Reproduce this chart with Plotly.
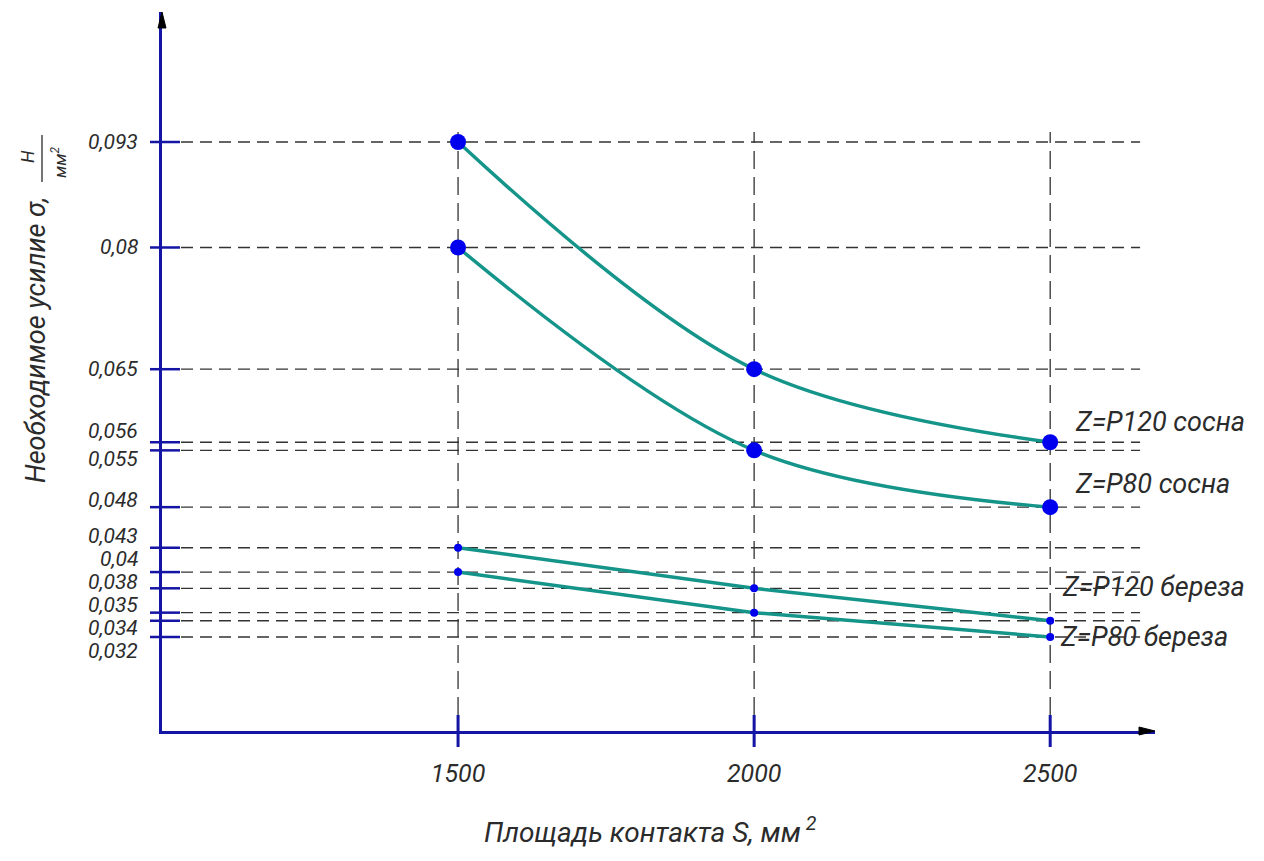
import plotly.graph_objects as go

# ---------------- data ----------------
S = [1500, 2000, 2500]
x_tick_labels = ["1500", "2000", "2500"]
series_names = ["Z=P120 сосна", "Z=P80 сосна", "Z=P120 береза", "Z=P80 береза"]
p120_pine = [0.093, 0.065, 0.056]
p80_pine = [0.080, 0.055, 0.048]
p120_birch = [0.043, 0.038, 0.034]
p80_birch = [0.040, 0.035, 0.032]
y_tick_vals = [0.093, 0.080, 0.065, 0.056, 0.055, 0.048,
               0.043, 0.040, 0.038, 0.035, 0.034, 0.032]
y_tick_labels = ["0,093", "0,08", "0,065", "0,056", "0,055", "0,048",
                 "0,043", "0,04", "0,038", "0,035", "0,034", "0,032"]

# ---------------- style ----------------
FONT = "Roboto, Liberation Sans, sans-serif"
TXT = "#2b2b2b"
AXIS = "#1414a5"
TEAL = "#15958a"
BLUE = "#0000ee"
OFF = 8                      # default page body margin
W, H = 1264 - OFF, 861 - OFF
ML, MR, MT, MB = 162 - OFF, 109, 12 - OFF, 130
PW, PH = W - ML - MR, H - MT - MB
X_RANGE = [1000, 2677]
Y_RANGE = [0.020416, 0.10902]
label_yshift = [0, 0, 0, 11, -9, 7, 12, 13, 6, 8, -7, -14]
series_style = [
    dict(y=p120_pine, shape="spline", msize=16),
    dict(y=p80_pine, shape="spline", msize=16),
    dict(y=p120_birch, shape="linear", msize=8),
    dict(y=p80_birch, shape="linear", msize=8),
]
series_label_pos = [(23, 20), (23, 23), (10, 34), (8, 0)]  # (xshift, yshift) px


def px2paper(px, py):
    """screen pixel -> paper coordinates"""
    return (px - OFF - ML) / PW, (H - MB - (py - OFF)) / PH


fig = go.Figure()

for name, st in zip(series_names, series_style):
    fig.add_trace(go.Scatter(
        x=S, y=st["y"], name=name, mode="lines+markers",
        line=dict(color=TEAL, width=3.5, shape=st["shape"], smoothing=1.0),
        marker=dict(color=BLUE, size=st["msize"]),
        showlegend=False, hoverinfo="x+y+name"))

shapes = []
# horizontal dashed reference lines + y ticks
for v in y_tick_vals:
    shapes.append(dict(type="line", xref="x domain", yref="y",
                       x0=19 / PW, x1=0.985, y0=v, y1=v, layer="below",
                       line=dict(color="#333333", width=1.3, dash="12px,7px")))
    shapes.append(dict(type="line", xref="x domain", yref="y",
                       x0=-12 / PW, x1=18 / PW, y0=v, y1=v,
                       line=dict(color=AXIS, width=2.5)))
# vertical dashed lines + x ticks
for s in S:
    shapes.append(dict(type="line", xref="x", yref="y domain",
                       x0=s, x1=s, y0=16 / PH, y1=(731 - 132) / PH, layer="below",
                       line=dict(color="#333333", width=1.3, dash="18px,8px")))
    shapes.append(dict(type="line", xref="x", yref="y domain",
                       x0=s, x1=s, y0=-16 / PH, y1=16 / PH,
                       line=dict(color=AXIS, width=3)))
# fraction bar in y title
fx, fy0 = px2paper(42, 135)
_, fy1 = px2paper(42, 182)
shapes.append(dict(type="line", xref="paper", yref="paper", x0=fx, x1=fx,
                   y0=fy0, y1=fy1, line=dict(color=TXT, width=1.3)))


# axis arrowheads (triangles)
def tri(p1, p2, p3):
    pts = [px2paper(*p) for p in (p1, p2, p3)]
    return "M {} {} L {} {} L {} {} Z".format(pts[0][0], pts[0][1], pts[1][0], pts[1][1],
                                             pts[2][0], pts[2][1])


shapes.append(dict(type="path", xref="paper", yref="paper",
                   path=tri((162, 12), (158, 28), (166, 28)),
                   fillcolor="black", line=dict(color="black", width=1)))
shapes.append(dict(type="path", xref="paper", yref="paper",
                   path=tri((1155, 731), (1139, 727), (1139, 735)),
                   fillcolor="black", line=dict(color="black", width=1)))

annotations = []
for v, t, dy in zip(y_tick_vals, y_tick_labels, label_yshift):
    annotations.append(dict(x=0, xref="x domain", y=v, yref="y", text=t,
                            xanchor="right", yanchor="middle", xshift=-22, yshift=dy,
                            showarrow=False,
                            font=dict(family=FONT, size=21, color=TXT, style="italic")))
for name, st, (dx, dy) in zip(series_names, series_style, series_label_pos):
    annotations.append(dict(x=S[-1], xref="x", y=st["y"][-1], yref="y", text=name,
                            xanchor="left", yanchor="middle", xshift=dx, yshift=dy,
                            showarrow=False,
                            font=dict(family=FONT, size=27, color=TXT, style="italic")))
# axis titles
tx, ty = px2paper(650, 830)
annotations.append(dict(x=tx, y=ty, xref="paper", yref="paper",
                        text="Площадь контакта S, мм<sup> 2</sup>", showarrow=False,
                        xanchor="center", yanchor="middle",
                        font=dict(family=FONT, size=28, color=TXT, style="italic")))
tx, ty = px2paper(36, 340)
annotations.append(dict(x=tx, y=ty, xref="paper", yref="paper", textangle=-90,
                        text="Необходимое усилие σ,", showarrow=False,
                        xanchor="center", yanchor="middle",
                        font=dict(family=FONT, size=27, color=TXT, style="italic")))
tx, ty = px2paper(27, 157)
annotations.append(dict(x=tx, y=ty, xref="paper", yref="paper", textangle=-90,
                        text="Н", showarrow=False, xanchor="center", yanchor="middle",
                        font=dict(family=FONT, size=18, color=TXT, style="italic")))
tx, ty = px2paper(59, 163)
annotations.append(dict(x=tx, y=ty, xref="paper", yref="paper", textangle=-90,
                        text="мм<sup>2</sup>", showarrow=False, xanchor="center",
                        yanchor="middle",
                        font=dict(family=FONT, size=17, color=TXT, style="italic")))

fig.update_layout(
    width=W, height=H, margin=dict(l=ML, r=MR, t=MT, b=MB),
    paper_bgcolor="white", plot_bgcolor="white",
    shapes=shapes, annotations=annotations,
    xaxis=dict(range=X_RANGE, showgrid=False, zeroline=False, showline=True,
               linecolor=AXIS, linewidth=2.5, tickvals=S, ticktext=x_tick_labels,
               ticks="outside", ticklen=18, tickcolor="rgba(0,0,0,0)",
               tickfont=dict(family=FONT, size=25, color=TXT, style="italic")),
    yaxis=dict(range=Y_RANGE, showgrid=False, zeroline=False, showline=True,
               linecolor=AXIS, linewidth=2.5, showticklabels=False, ticks=""),
)

fig.write_html("out.html", config={"displayModeBar": False})
